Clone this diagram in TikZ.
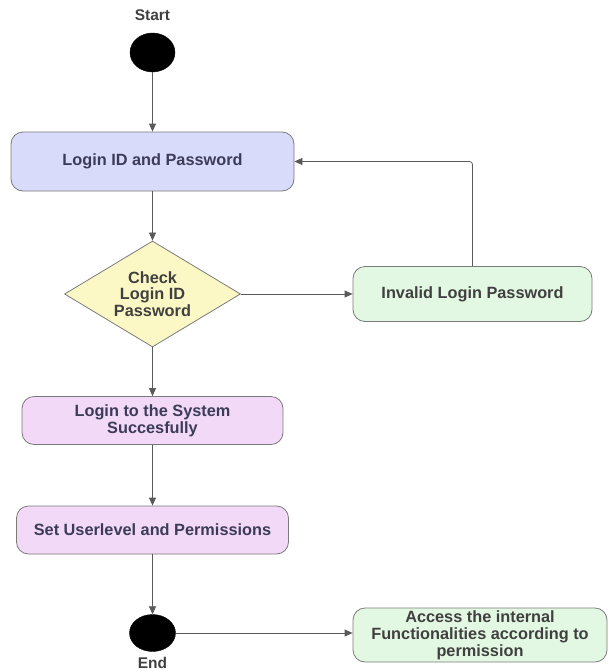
\documentclass[tikz,border=0pt]{standalone}
\usepackage{fontspec}
\setmainfont{Liberation Sans}
\usetikzlibrary{shapes.geometric,arrows.meta}
\definecolor{lav}{HTML}{D9DBFA}
\definecolor{yel}{HTML}{FCF8C6}
\definecolor{grn}{HTML}{E3F8E3}
\definecolor{pur}{HTML}{F3D9F8}
\definecolor{bord}{HTML}{7A7A7A}
\definecolor{txtnavy}{HTML}{3C3C58}
\definecolor{txtgray}{HTML}{404040}
\definecolor{linec}{HTML}{5A5A5A}
\begin{document}
\begin{tikzpicture}[x=1pt,y=-1pt,
  every node/.style={font=\fontsize{16.3}{16.8}\selectfont\bfseries, align=center},
  boxstyle/.style={draw=bord, line width=0.8pt, rounded corners=12pt, inner sep=0pt},
  dotstyle/.style={ellipse, fill=black, draw=black, inner sep=0pt},
  conn/.style={draw=linec, line width=0.8pt, -{Triangle[length=8pt,width=7pt]}},
  lbl/.style={text=txtgray, font=\fontsize{15.5}{16}\selectfont\bfseries}]
\useasboundingbox (0,0) rectangle (609,672);
\node[lbl] (starttxt) at (152.5,15) {Start};
\node[dotstyle, minimum width=45pt, minimum height=39pt] (start) at (152.5,52.5) {};
\node[boxstyle, fill=lav, text=txtnavy, minimum width=283pt, minimum height=59pt] (login) at (152.5,161.5) {Login ID and Password};
\node[diamond, draw=bord, line width=0.8pt, fill=yel, inner sep=0pt, minimum width=176pt, minimum height=106pt] (check) at (152.5,294) {};
\node[text=txtgray] (checktxt) at (check.center) {Check\\Login ID\\Password};
\node[boxstyle, fill=grn, text=txtgray, minimum width=239pt, minimum height=55pt] (invalid) at (472.5,294) {Invalid Login Password};
\node[boxstyle, fill=pur, text=txtnavy, minimum width=261pt, minimum height=48pt] (system) at (152.5,420.5) {Login to the System\\Succesfully};
\node[boxstyle, fill=pur, text=txtnavy, minimum width=272pt, minimum height=48pt] (perm) at (152.5,530) {Set Userlevel and Permissions};
\node[dotstyle, minimum width=46pt, minimum height=37pt] (end) at (152.5,633) {};
\node[lbl] (endtxt) at (152.5,662.5) {End};
\node[boxstyle, fill=grn, text=txtgray, minimum width=254pt, minimum height=54pt] (access) at (480,635) {Access the internal\\Functionalities according to\\permission};
\draw[conn] (start) -- (login);
\draw[conn] (login) -- (check);
\draw[conn] (check) -- (system);
\draw[conn] (system) -- (perm);
\draw[conn] (perm) -- (end);
\draw[conn] (check.east) -- (invalid.west);
\draw[conn, rounded corners=3pt] (invalid.north) |- (login.east);
\draw[conn] (end.east) -- (access.west |- end.east);
\end{tikzpicture}
\end{document}
